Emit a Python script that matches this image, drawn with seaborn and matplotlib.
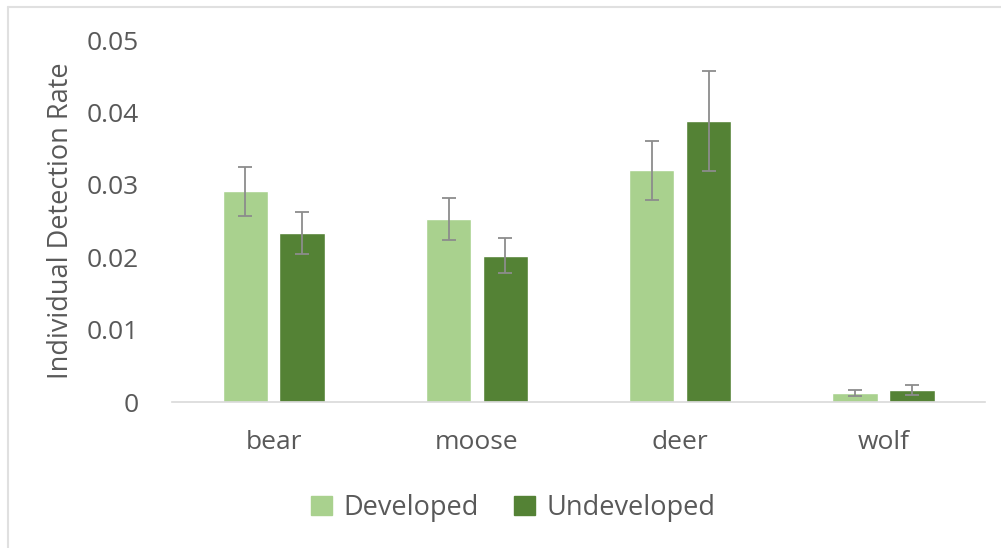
import pandas as pd
import numpy as np
import matplotlib.pyplot as plt
import seaborn as sns
from matplotlib.patches import Rectangle

# values
animals = ["bear", "moose", "deer", "wolf"]
developed = [0.0291, 0.0253, 0.0320, 0.0012]
undeveloped = [0.0234, 0.0202, 0.0388, 0.0016]
developed_err = [0.0034, 0.0029, 0.0041, 0.0004]
undeveloped_err = [0.0029, 0.0024, 0.0069, 0.0007]
groups = ["Developed", "Undeveloped"]

df = pd.DataFrame({
    "animal": animals * 2,
    "site": [groups[0]] * 4 + [groups[1]] * 4,
    "rate": developed + undeveloped,
})

sns.set_style("white")
plt.rcParams['font.family'] = ['Open Sans', 'DejaVu Sans']
text_col = "#595959"

fig = plt.figure(figsize=(10.01, 5.48), dpi=100)
ax = fig.add_axes([0.172, 0.2664, 0.812, 0.6606])

sns.barplot(data=df, x="animal", y="rate", hue="site", order=animals,
            hue_order=groups, palette=["#A9D18E", "#548235"], saturation=1,
            width=0.56, gap=0.2, errorbar=None, ax=ax, legend=False)

# error bars on top of the bars
for cont, errs in zip(ax.containers, [developed_err, undeveloped_err]):
    for bar, e in zip(cont, errs):
        cx = bar.get_x() + bar.get_width() / 2
        ax.errorbar(cx, bar.get_height(), yerr=e, color="#8c8c8c",
                    elinewidth=1.3, capsize=5, capthick=1.3, zorder=5)

ax.set_ylim(0, 0.05)
ax.set_yticks([0, 0.01, 0.02, 0.03, 0.04, 0.05])
ax.set_yticklabels(["0", "0.01", "0.02", "0.03", "0.04", "0.05"])
ax.set_xlim(-0.5, 3.5)
ax.set_xlabel("")
ax.set_ylabel("Individual Detection Rate", fontsize=19.5, color=text_col, labelpad=8)
ax.tick_params(axis="both", length=0, labelsize=19, colors=text_col)
ax.tick_params(axis="x", pad=20)
ax.tick_params(axis="y", pad=24)

for s in ["top", "right", "left"]:
    ax.spines[s].set_visible(False)
ax.spines["bottom"].set_color("#d9d9d9")
ax.spines["bottom"].set_linewidth(1.2)

handles = [Rectangle((0, 0), 1, 1, color=c) for c in ["#A9D18E", "#548235"]]
fig.legend(handles, groups, loc="center", bbox_to_anchor=(0.513, 0.073),
           ncol=2, frameon=False, fontsize=19.5, labelcolor=text_col,
           handlelength=0.75, handleheight=0.75, handletextpad=0.45,
           columnspacing=1.3)

# faint frame visible at top and left of the original
fig.add_artist(plt.Line2D([0.008, 0.008], [0, 0.988], color="#e0e0e0",
                          lw=1.5, transform=fig.transFigure))
fig.add_artist(plt.Line2D([0.008, 1], [0.988, 0.988], color="#e0e0e0",
                          lw=1.5, transform=fig.transFigure))

plt.savefig("out.png", dpi=100)
